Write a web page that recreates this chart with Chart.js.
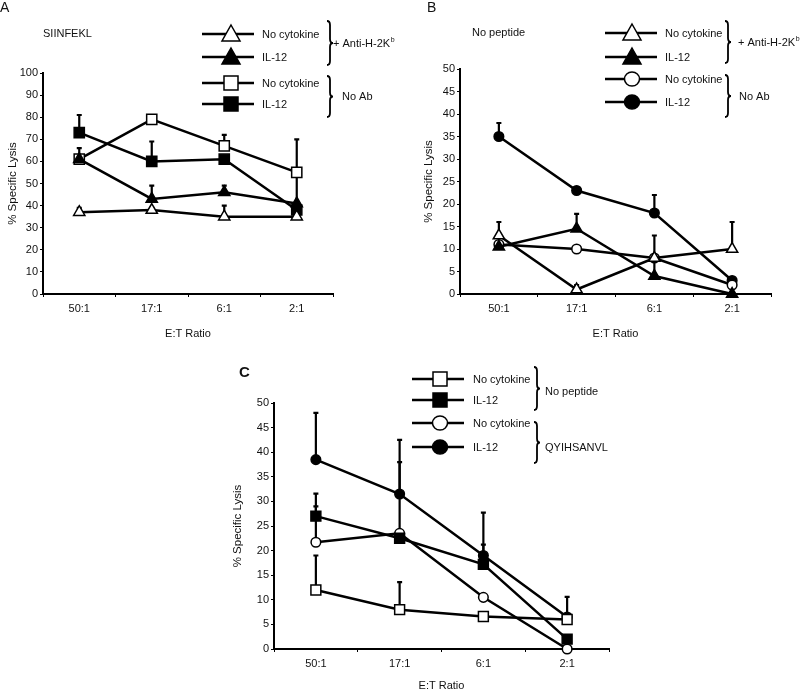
<!DOCTYPE html>
<html>
<head>
<meta charset="utf-8">
<script src="https://cdn.jsdelivr.net/npm/chart.js@4.4.0/dist/chart.umd.min.js"></script>
<style>
  body { margin: 0; background: #fff; width: 800px; height: 690px; overflow: hidden; position: relative; }
  canvas { position: absolute; }
</style>
</head>
<body>
<canvas id="chartA" width="400" height="345" style="left:0;top:0"></canvas>
<canvas id="chartB" width="400" height="345" style="left:400px;top:0"></canvas>
<canvas id="chartC" width="420" height="345" style="left:200px;top:345px"></canvas>
<script>
// ---------------- data ----------------
const ratios = ['50:1', '17:1', '6:1', '2:1'];

// Panel A - SIINFEKL
const aNoCytAnti = [37, 38, 35, 35];
const aNoCytAntiErr = [2, 1, 5, 0];
const aIl12Anti = [61, 43, 46, 41];
const aIl12AntiErr = [5, 6, 3, 0];
const aNoCytNoAb = [61, 79, 67, 55];
const aNoCytNoAbErr = [0, 2, 5, 0];
const aIl12NoAb = [73, 60, 61, 38];
const aIl12NoAbErr = [8, 9, 0, 32];

// Panel B - no peptide
const bNoCytAnti = [13, 1, 8, 10];
const bNoCytAntiErr = [3, 1, 0, 6];
const bIl12Anti = [10.5, 14.5, 4, 0];
const bIl12AntiErr = [0, 3.3, 9, 0];
const bNoCytNoAb = [11, 10, 8, 2];
const bNoCytNoAbErr = [0, 0, 0, 0];
const bIl12NoAb = [35, 23, 18, 3];
const bIl12NoAbErr = [3, 0.7, 4, 0];

// Panel C - no peptide vs QYIHSANVL
const cNoCytNoPep = [12, 8, 6.6, 6];
const cNoCytNoPepErr = [7, 5.6, 0, 0];
const cIl12NoPep = [27, 22.5, 17.2, 2];
const cIl12NoPepErr = [4.6, 0, 4, 0];
const cNoCytQ = [21.7, 23.5, 10.5, 0];
const cNoCytQErr = [7.3, 14.5, 0, 0];
const cIl12Q = [38.5, 31.5, 19, 6.5];
const cIl12QErr = [9.5, 11, 8.7, 4.1];

const FONT = "'Liberation Sans', Arial, sans-serif";
const TXT = '#111';

// ---------------- helpers ----------------
function series(label, data, err, style, filled, radius) {
    return {
        label: label, data: data, errUp: err,
        borderColor: '#000', borderWidth: 2.5, tension: 0, fill: false, clip: false,
        pointStyle: style, pointRadius: radius,
        pointBackgroundColor: filled ? '#000' : '#fff',
        pointBorderColor: '#000', pointBorderWidth: 1.5
    };
}

// upward-only error bars
const errorBars = {
    id: 'errorBars',
    beforeDatasetsDraw(chart) {
        const ctx = chart.ctx;
        const yScale = chart.scales.y;
        ctx.save();
        ctx.strokeStyle = '#000';
        ctx.lineWidth = 2.2;
        chart.data.datasets.forEach((ds, i) => {
            const meta = chart.getDatasetMeta(i);
            meta.data.forEach((pt, j) => {
                const e = ds.errUp[j];
                if (!e) return;
                const top = yScale.getPixelForValue(ds.data[j] + e);
                ctx.beginPath();
                ctx.moveTo(pt.x, pt.y);
                ctx.lineTo(pt.x, top);
                ctx.moveTo(pt.x - 2.5, top);
                ctx.lineTo(pt.x + 2.5, top);
                ctx.stroke();
            });
        });
        ctx.restore();
    }
};

function drawMark(ctx, style, x, y, filled) {
    ctx.beginPath();
    if (style === 'rect') {
        ctx.rect(x - 7, y - 7, 14, 14);
    } else if (style === 'triangle') {
        ctx.moveTo(x, y - 9);
        ctx.lineTo(x + 9, y + 7);
        ctx.lineTo(x - 9, y + 7);
        ctx.closePath();
    } else {
        ctx.ellipse(x, y, 7.5, 7, 0, 0, Math.PI * 2);
    }
    ctx.fillStyle = filled ? '#000' : '#fff';
    ctx.fill();
    ctx.lineWidth = 1.5;
    ctx.strokeStyle = '#000';
    ctx.stroke();
}

function drawBrace(ctx, x, y1, y2) {
    const m = (y1 + y2) / 2;
    ctx.beginPath();
    ctx.moveTo(x - 3, y1);
    ctx.quadraticCurveTo(x, y1, x, y1 + 4);
    ctx.lineTo(x, m - 4);
    ctx.quadraticCurveTo(x, m, x + 3, m);
    ctx.quadraticCurveTo(x, m, x, m + 4);
    ctx.lineTo(x, y2 - 4);
    ctx.quadraticCurveTo(x, y2, x - 3, y2);
    ctx.stroke();
}

// legend with grouping braces + panel notes
function panelDecor(cfg) {
    return {
        id: 'panelDecor',
        afterDraw(chart) {
            const ctx = chart.ctx;
            ctx.save();
            ctx.textBaseline = 'middle';
            ctx.textAlign = 'left';
            cfg.rows.forEach((y, i) => {
                const ds = chart.data.datasets[i];
                ctx.strokeStyle = '#000';
                ctx.lineWidth = 2.5;
                ctx.beginPath();
                ctx.moveTo(cfg.lineX[0], y);
                ctx.lineTo(cfg.lineX[1], y);
                ctx.stroke();
                drawMark(ctx, ds.pointStyle, cfg.markX, y, ds.pointBackgroundColor === '#000');
                ctx.fillStyle = TXT;
                ctx.font = '11px ' + FONT;
                ctx.fillText(ds.label, cfg.textX, y + 1);
            });
            ctx.strokeStyle = '#000';
            ctx.lineWidth = 1.8;
            cfg.braces.forEach(b => {
                drawBrace(ctx, b.x, b.y1, b.y2);
                ctx.fillStyle = TXT;
                ctx.font = '11px ' + FONT;
                ctx.fillText(b.text, b.tx, b.ty);
                if (b.sup) {
                    const w = ctx.measureText(b.text).width;
                    ctx.font = '7px ' + FONT;
                    ctx.fillText(b.sup, b.tx + w + 0.5, b.ty - 4);
                }
            });
            cfg.notes.forEach(n => {
                ctx.fillStyle = TXT;
                ctx.font = n.font + FONT;
                ctx.fillText(n.text, n.x, n.y);
            });
            ctx.restore();
        }
    };
}

function buildChart(id, c) {
    return new Chart(document.getElementById(id), {
        type: 'line',
        data: { labels: ratios, datasets: c.datasets },
        options: {
            responsive: false,
            animation: false,
            devicePixelRatio: 1,
            layout: { padding: c.pad },
            plugins: { legend: { display: false }, tooltip: { enabled: false } },
            scales: {
                x: {
                    offset: true,
                    grid: { offset: true, drawOnChartArea: false, tickLength: 3, color: '#000' },
                    border: { color: '#000', width: 2 },
                    ticks: { color: TXT, font: { family: FONT, size: 11 }, padding: 5 },
                    title: { display: true, text: 'E:T Ratio', color: TXT, font: { family: FONT, size: 11 }, padding: c.xTitlePad },
                    afterFit: s => { s.height = c.xHeight; }
                },
                y: {
                    min: 0, max: c.yMax,
                    ticks: { stepSize: c.step, color: TXT, font: { family: FONT, size: 11 }, padding: 2 },
                    grid: { drawOnChartArea: false, tickLength: 3, color: '#000' },
                    border: { color: '#000', width: 2 },
                    title: { display: true, text: '% Specific Lysis', color: TXT, font: { family: FONT, size: 11.5 }, padding: { top: 4, bottom: 4 } },
                    afterFit: s => { s.width = c.yWidth; }
                }
            }
        },
        plugins: [errorBars, panelDecor(c.decor)]
    });
}

// ---------------- panels ----------------
buildChart('chartA', {
    pad: { left: 2, right: 67, top: 73, bottom: 0 },
    yWidth: 41, xHeight: 51, yMax: 100, step: 10,
    xTitlePad: { top: 4, bottom: 4 },
    datasets: [
        series('No cytokine', aNoCytAnti, aNoCytAntiErr, 'triangle', false, 6.5),
        series('IL-12', aIl12Anti, aIl12AntiErr, 'triangle', true, 6.5),
        series('No cytokine', aNoCytNoAb, aNoCytNoAbErr, 'rect', false, 7.2),
        series('IL-12', aIl12NoAb, aIl12NoAbErr, 'rect', true, 7.2)
    ],
    decor: {
        lineX: [202, 254], markX: 231, textX: 262,
        rows: [34, 57, 83, 104],
        braces: [
            { x: 330, y1: 21, y2: 65, text: '+ Anti-H-2K', sup: 'b', tx: 333, ty: 44 },
            { x: 330, y1: 76, y2: 117, text: 'No Ab', tx: 342, ty: 97 }
        ],
        notes: [
            { text: 'A', x: 0, y: 8, font: '14px ' },
            { text: 'SIINFEKL', x: 43, y: 34, font: '11px ' }
        ]
    }
});

buildChart('chartB', {
    pad: { left: 18, right: 29, top: 69, bottom: 0 },
    yWidth: 42, xHeight: 51, yMax: 50, step: 5,
    xTitlePad: { top: 4, bottom: 4 },
    datasets: [
        series('No cytokine', bNoCytAnti, bNoCytAntiErr, 'triangle', false, 6.5),
        series('IL-12', bIl12Anti, bIl12AntiErr, 'triangle', true, 6.5),
        series('No cytokine', bNoCytNoAb, bNoCytNoAbErr, 'circle', false, 4.8),
        series('IL-12', bIl12NoAb, bIl12NoAbErr, 'circle', true, 4.8)
    ],
    decor: {
        lineX: [205, 257], markX: 232, textX: 265,
        rows: [33, 57, 79, 102],
        braces: [
            { x: 328, y1: 21, y2: 63, text: '+ Anti-H-2K', sup: 'b', tx: 338, ty: 43 },
            { x: 328, y1: 75, y2: 117, text: 'No Ab', tx: 339, ty: 97 }
        ],
        notes: [
            { text: 'B', x: 27, y: 8, font: '14px ' },
            { text: 'No peptide', x: 72, y: 33, font: '11px ' }
        ]
    }
});

buildChart('chartC', {
    pad: { left: 27, right: 11, top: 58, bottom: 0 },
    yWidth: 47, xHeight: 41, yMax: 50, step: 5,
    xTitlePad: { top: 4, bottom: -3 },
    datasets: [
        series('No cytokine', cNoCytNoPep, cNoCytNoPepErr, 'rect', false, 7),
        series('IL-12', cIl12NoPep, cIl12NoPepErr, 'rect', true, 7),
        series('No cytokine', cNoCytQ, cNoCytQErr, 'circle', false, 4.8),
        series('IL-12', cIl12Q, cIl12QErr, 'circle', true, 4.8)
    ],
    decor: {
        lineX: [212, 264], markX: 240, textX: 273,
        rows: [34, 55, 78, 102],
        braces: [
            { x: 337, y1: 22, y2: 65, text: 'No peptide', tx: 345, ty: 47 },
            { x: 337, y1: 77, y2: 118, text: 'QYIHSANVL', tx: 345, ty: 103 }
        ],
        notes: [
            { text: 'C', x: 39, y: 28, font: 'bold 15px ' }
        ]
    }
});
</script>
</body>
</html>
